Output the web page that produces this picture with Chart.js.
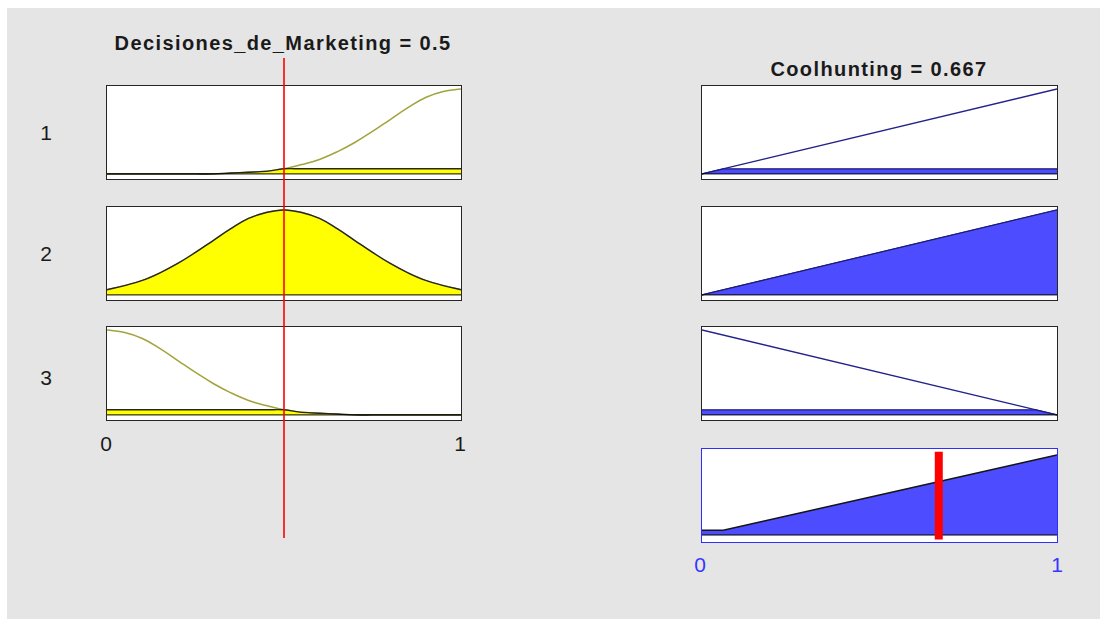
<!DOCTYPE html>
<html>
<head>
<meta charset="utf-8">
<script src="https://cdn.jsdelivr.net/npm/chart.js@4/dist/chart.umd.min.js"></script>
<style>
  html, body { margin: 0; padding: 0; background: #fff; }
  #fig { position: absolute; left: 7px; top: 8px; width: 1093px; height: 611px; background: #e5e5e5; }
  .box { position: absolute; box-sizing: border-box; border: 1px solid #262626; background: #fff; }
  .box canvas, .over { display: block; }
  .over { position: absolute; z-index: 5; }
  .txt { position: absolute; font-family: "Liberation Sans", Arial, sans-serif; color: #1a1a1a; white-space: nowrap; transform: translate(-50%, -50%); }
  .ttl { font-weight: bold; font-size: 20px; letter-spacing: 1.4px; }
  .lbl { font-size: 21px; }
</style>
</head>
<body>
<div id="fig"></div>
<script>
// input variable and its three gaussian membership functions, sampled every 0.05
const inTitle = 'Decisiones_de_Marketing';
const inputValue = 0.5;
const mfX = [0, 0.05, 0.1, 0.15, 0.2, 0.25, 0.3, 0.35, 0.4, 0.45, 0.5,
             0.55, 0.6, 0.65, 0.7, 0.75, 0.8, 0.85, 0.9, 0.95, 1];
const inMf1 = [0, 0, 0, 0, 0, 0, 0, 0.01, 0.02, 0.03, 0.06,
               0.11, 0.17, 0.26, 0.37, 0.5, 0.64, 0.78, 0.9, 0.97, 1];
const inMf2 = [0.06, 0.11, 0.17, 0.26, 0.37, 0.5, 0.64, 0.78, 0.9, 0.97, 1,
               0.97, 0.9, 0.78, 0.64, 0.5, 0.37, 0.26, 0.17, 0.11, 0.06];
const inMf3 = [1, 0.97, 0.9, 0.78, 0.64, 0.5, 0.37, 0.26, 0.17, 0.11, 0.06,
               0.03, 0.02, 0.01, 0, 0, 0, 0, 0, 0, 0];
const firing = [0.06, 1, 0.06];

// output variable, linear membership functions
const outTitle = 'Coolhunting';
const outputValue = 0.667;
const outX = [0, 1];
const outMf1 = [0, 1];
const outMf2 = [0, 1];
const outMf3 = [1, 0];

const rowLabels = ['1', '2', '3'];
const inTicks = ['0', '1'];
const outTicks = ['0', '1'];

const fig = document.getElementById('fig');
const OX = 7, OY = 8;

function addText(str, x, y, cls, color) {
  const d = document.createElement('div');
  d.className = 'txt ' + cls;
  d.textContent = str;
  d.style.left = (x - OX) + 'px';
  d.style.top = (y - OY) + 'px';
  if (color) d.style.color = color;
  fig.appendChild(d);
}

function makeBox(x, y, w, h, border) {
  const d = document.createElement('div');
  d.className = 'box';
  d.style.left = (x - OX) + 'px';
  d.style.top = (y - OY) + 'px';
  d.style.width = w + 'px';
  d.style.height = h + 'px';
  if (border) d.style.borderColor = border;
  const c = document.createElement('canvas');
  c.width = w - 2;
  c.height = h - 2;
  d.appendChild(c);
  fig.appendChild(d);
  return c;
}

function pts(xs, ys) {
  return xs.map((x, i) => ({ x: x, y: ys[i] }));
}

// min(mf, w), adding the point where a straight segment crosses the level w
function clip(xs, ys, w) {
  const out = [];
  for (let i = 0; i < xs.length; i++) {
    if (i > 0 && (ys[i - 1] - w) * (ys[i] - w) < 0) {
      const t = (w - ys[i - 1]) / (ys[i] - ys[i - 1]);
      out.push({ x: xs[i - 1] + t * (xs[i] - xs[i - 1]), y: w });
    }
    out.push({ x: xs[i], y: Math.min(ys[i], w) });
  }
  return out;
}

function valueAt(p, x) {
  for (let i = 1; i < p.length; i++) {
    if (x <= p[i].x) {
      const dx = p[i].x - p[i - 1].x;
      if (dx === 0) return Math.max(p[i].y, p[i - 1].y);
      return p[i - 1].y + (x - p[i - 1].x) / dx * (p[i].y - p[i - 1].y);
    }
  }
  return p[p.length - 1].y;
}

function draw(canvas, datasets, yMin, yMax) {
  return new Chart(canvas, {
    type: 'line',
    data: { datasets: datasets },
    options: {
      responsive: false,
      animation: false,
      events: [],
      layout: { padding: 0 },
      plugins: { legend: { display: false }, tooltip: { enabled: false } },
      elements: { point: { radius: 0 } },
      scales: {
        x: { type: 'linear', min: 0, max: 1, display: false },
        y: { min: yMin, max: yMax, display: false }
      }
    }
  });
}

const baseline = () => ({ data: [{ x: 0, y: 0 }, { x: 1, y: 0 }], borderColor: '#000', borderWidth: 1, order: 1 });

const inMfs = [inMf1, inMf2, inMf3];
const outMfs = [outMf1, outMf2, outMf3];
const rowTops = [85, 206, 326];
const rowLabelY = [133, 254, 378];
const clippedOut = [];

rowTops.forEach((top, i) => {
  // input rule panel
  const cIn = makeBox(106, top, 356, 95);
  draw(cIn, [
    { data: pts(mfX, inMfs[i]), borderColor: '#a3a33c', borderWidth: 1.5, tension: 0.4, order: 3 },
    { data: clip(mfX, inMfs[i], firing[i]), fill: 'origin', backgroundColor: '#ffff00', borderColor: '#262626', borderWidth: 1.4, tension: 0.4, order: 2 },
    baseline()
  ], -0.06, 1.035);

  // output rule panel
  const c = clip(outX, outMfs[i], firing[i]);
  clippedOut.push(c);
  const cOut = makeBox(701, top, 357, 95);
  draw(cOut, [
    { data: pts(outX, outMfs[i]), borderColor: '#22228a', borderWidth: 1.3, order: 3 },
    { data: c, fill: 'origin', backgroundColor: '#4d4dff', borderColor: '#1c1c70', borderWidth: 1.2, order: 2 },
    baseline()
  ], -0.06, 1.035);

  addText(rowLabels[i], 46, rowLabelY[i], 'lbl');
});

// aggregated output: maximum of the clipped rule outputs
const aggXs = [...new Set(clippedOut.flat().map(p => p.x))].sort((a, b) => a - b);
const aggregate = aggXs.map(x => ({ x: x, y: Math.max(...clippedOut.map(p => valueAt(p, x))) }));

const cAgg = makeBox(701, 448, 357, 95, '#2e2eff');
draw(cAgg, [
  { data: [{ x: outputValue, y: -0.055 }, { x: outputValue, y: 1.04 }], borderColor: '#ff0000', borderWidth: 8, borderCapStyle: 'butt', order: 0 },
  { data: aggregate, fill: 'origin', backgroundColor: '#4d4dff', borderColor: '#151515', borderWidth: 1.5, order: 2 },
  baseline()
], -0.0875, 1.075);

// input value marker across the input column
const over = document.createElement('canvas');
over.className = 'over';
over.width = 354;
over.height = 480;
over.style.left = (107 - OX) + 'px';
over.style.top = (58 - OY) + 'px';
fig.appendChild(over);
draw(over, [
  { data: [{ x: inputValue, y: 0 }, { x: inputValue, y: 1 }], borderColor: '#ff0000', borderWidth: 1.6 }
], 0, 1);

addText(inTitle + ' = ' + inputValue, 283, 43, 'ttl');
addText(outTitle + ' = ' + outputValue, 879, 69, 'ttl');
addText(inTicks[0], 106, 444, 'lbl');
addText(inTicks[1], 460, 444, 'lbl');
addText(outTicks[0], 700, 565, 'lbl', '#3636ff');
addText(outTicks[1], 1057, 565, 'lbl', '#3636ff');
</script>
</body>
</html>
